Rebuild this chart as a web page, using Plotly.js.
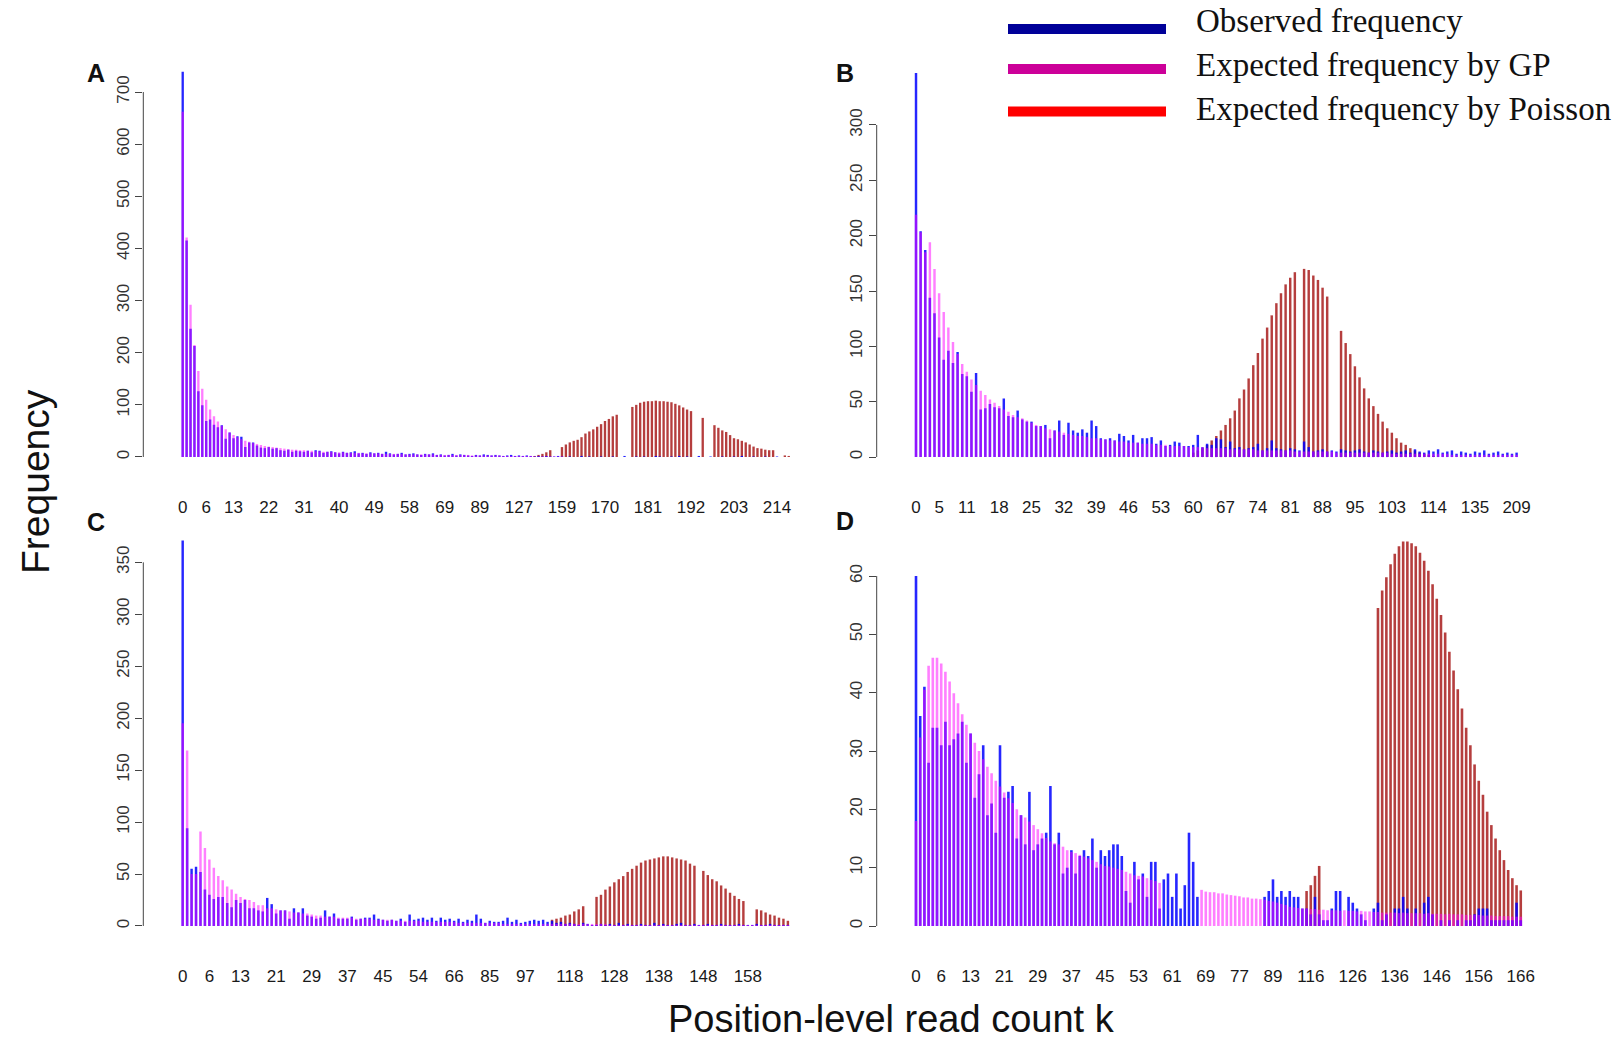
<!DOCTYPE html>
<html><head><meta charset="utf-8">
<script src="https://cdn.plot.ly/plotly-3.0.1.min.js"></script>
<style>html,body{margin:0;padding:0;background:#fff}#chart{width:1621px;height:1044px}</style>
</head><body><div id="chart"></div>
<script>
// ---------------- Panel A ----------------
const kA = [0,1,2,3,4,5,6,7,8,9,10,11,12,13,14,15,16,17,18,19,20,21,22,23,24,25,26,27,28,29,30,31,32,33,34,35,36,37,38,39,40,41,42,43,44,45,46,47,48,49,50,51,52,53,54,55,56,57,58,59,60,61,62,63,65,66,68,69,70,72,74,76,78,81,84,86,89,91,94,97,101,105,110,114,119,123,127,131,136,140,144,147,150,152,154,156,157,159,160,161,162,163,164,165,166,167,168,169,170,171,172,173,174,175,176,177,178,179,180,181,182,183,184,185,186,187,188,189,190,191,192,193,194,195,196,197,198,199,200,201,202,203,204,205,206,207,208,209,210,211,212,213,214,216,219,223];
const obsA = [739,415,246,213,126,99,69,72,62,57,61,35,47,36,40,39,19,28,28,22,18,17,19,16,17,13,12,14,10,12,11,
10,12,9,13,12,8,10,11,9,7,10,8,9,11,7,8,6,9,7,8,6,10,7,5,6,8,5,6,
7,5,4,6,5,7,4,5,3,4,6,3,5,4,3,2,4,3,5,4,3,4,3,2,3,4,2,3,
2,3,2,1,2,1,2,1,1,2,1,
null,1,null,null,2,null,1,null,null,1,
null,null,1,null,null,2,null,null,1,null,
1,null,null,2,1,null,null,1,null,2,
null,1,null,null,2,null,null,1,null,null,
1,null,null,1,null,2,null,null,1,null,
null,1,null,null,1,null,null,null];
const gpA = [662,421,292,215,165,131,110,91,78,68,60,53,47,42,38,34,31,29,27,25,23,21,20,19,18,17,16,15,14,14,13,
13,12,12,11,11,10,10,10,9,9,9,8,8,8,8,7,7,7,7,7,6,6,6,6,6,6,5,5,
5,5,5,5,5,5,4,4,4,4,4,4,4,4,4,3,3,3,3,3,3,3,3,2,2,2,2,2,
2,2,2,1,1,1,1,1,1,1,1];
const poisAk = [144,147,150,152,154,159,160,161,162,163,164,165,166,167,168,169,170,171,172,173,177,178,179,180,181,182,183,184,185,186,187,188,189,190,191,192,195,198,199,200,201,202,203,204,205,206,207,208,209,210,211,212,213,219,223];
const poisA = [2,4,6,9,13,19,24,28,31,33,38,45,49,53,58,63,69,73,78,81,96,100,104,106,107,107,108,107,107,106,105,102,99,95,91,88,75,61,56,51,48,42,36,34,31,28,24,20,17,16,14,13,13,3,2];
const ticksA = [0,6,13,22,31,40,49,58,69,89,127,159,170,181,192,203,214];

// ---------------- Panel B ----------------
const kB = [0,1,2,3,4,5,6,7,8,9,10,11,12,13,14,15,16,17,18,19,20,21,22,23,24,25,26,27,28,29,30,31,32,33,34,35,36,37,38,39,40,41,42,43,44,45,46,47,48,49,50,51,52,53,54,55,56,57,58,59,60,61,62,63,64,65,66,67,68,69,70,71,72,73,74,75,76,77,78,79,80,81,82,83,84,85,86,87,88,89,90,91,92,93,94,95,96,97,98,99,100,101,102,103,104,105,106,107,108,110,111,113,114,116,118,120,122,125,127,130,132,135,138,141,146,152,158,165,174,188,209];
const obsB = [347,204,187,144,130,108,88,96,85,95,75,73,59,76,43,44,48,45,44,53,37,36,42,34,32,32,28,28,29,17,24,
33,20,31,24,22,25,22,33,28,17,16,17,15,21,19,15,20,13,17,17,18,12,15,10,11,14,13,10,10,11,20,
9,12,11,17,16,9,14,8,9,7,8,9,12,6,8,15,8,7,6,8,7,6,14,9,5,6,7,5,6,5,7,6,5,6,
7,5,4,6,5,4,5,6,4,5,6,4,7,5,4,6,5,7,4,5,6,3,5,4,3,5,4,6,3,4,5,3,4,3,4];
const gpB = [219,203,185,194,170,148,131,117,104,93,84,77,70,65,60,56,52,49,46,43,41,38,36,35,33,31,29,28,26,25,24,23,22,21,20,19,19,18,17,17,16,16,15,15,14,14,13,13,13,12,12,12,11,11,11,10,10,10,10,9,9,
9,9,8,8,8,8,8,7,7,7,7,7,7,6,6,6,6,6,6,6,6,5,5,5,5,5,5,5,5,5,4,4,4,4,4,
4,4,4,4,4,4,4,3,3,3,3,3,3,3,3,3,3,3,3,3,2,2,2,2,2,2,2,2,2,2,2,2,2,2,2];
const poisBk = [60,61,62,63,64,65,66,67,68,69,70,71,72,73,74,75,76,77,78,79,80,81,82,84,85,86,87,88,89,92,93,94,95,96,97,98,99,100,101,102,103,104,105,106,107,108,110,111,113,114];
const poisB = [4,6,8,11,15,19,24,29,35,42,53,61,71,83,94,107,117,128,139,148,156,162,167,170,169,164,160,153,145,114,103,93,82,72,62,53,46,39,32,26,22,17,13,11,8,6,4,3,2,1];
const ticksB = [0,5,11,18,25,32,39,46,53,60,67,74,81,88,95,103,114,135,209];

// ---------------- Panel C ----------------
const kC = [0,1,2,3,4,5,6,7,8,9,10,11,12,13,14,15,16,17,18,19,20,21,22,23,24,25,26,27,28,29,30,31,32,33,34,35,36,37,38,39,40,41,42,43,44,45,46,47,48,49,50,52,53,54,55,56,58,59,61,62,64,66,67,69,71,73,75,78,81,85,86,88,89,90,92,93,95,97,99,101,103,105,107,109,111,113,116,118,119,120,121,122,123,124,125,126,127,128,129,130,131,132,133,134,135,136,137,138,139,140,141,142,143,144,145,146,147,148,149,150,151,152,153,154,155,156,157,158,159,160,161,162,163,164,165,166,167];
const obsC = [371,94,55,57,52,35,30,26,28,28,22,18,25,22,25,17,17,15,14,27,21,12,15,15,7,17,13,17,10,9,7,8,15,9,12,7,7,7,9,6,7,8,8,11,7,6,
5,6,5,7,4,11,6,7,8,6,8,5,8,6,7,5,7,4,6,5,11,7,3,5,4,4,5,8,4,6,3,4,
5,6,5,6,4,5,3,4,2,3,
2,1,3,2,1,1,2,1,2,1,3,1,2,1,1,2,1,1,3,1,2,1,1,2,3,1,1,2,1,1,2,1,1,2,1,1,1,2,1,1,1,2,1,1,2,1,1,1,1];
const gpC = [195,169,50,50,91,75,64,56,48,44,38,35,31,28,26,25,23,20,20,17,17,16,15,15,14,13,13,12,12,11,10,10,9,9,9,8,8,8,8,7,7,7,7,6,6,6,
6,6,5,5,5,5,5,5,4,4,4,4,4,4,4,4,3,3,3,3,3,3,3,3,3,3,2,2,2,2,2,2,
2,2,2,2,2,2,2,2,2,2,2,2,2,2,2,2,2,2,
1,1,1,1,1,1,1,1,1,1,1,1,1,1,1,1,1,1,1,1,1,1,1,1,1,1,1,1,1,1,1,1,1,1,1,1,1,1,1,1,1];
const poisCk = [109,111,113,116,118,119,120,121,124,125,126,127,128,129,130,131,132,133,134,135,136,137,138,139,140,141,142,143,144,145,146,148,149,150,151,152,153,154,155,156,157,160,161,162,163,164,165,166,167];
const poisC = [6,7,8,10,11,14,16,19,28,30,35,38,42,45,48,52,55,58,61,63,64,65,66,67,67,66,65,64,63,60,58,53,49,45,43,39,36,32,29,26,24,16,15,13,11,10,8,7,5];
const ticksC = [0,6,13,21,29,37,45,54,66,85,97,118,128,138,148,158];

// ---------------- Panel D ----------------
const kD = [0,1,2,3,4,5,6,7,8,9,10,11,12,13,14,15,16,17,18,19,20,21,22,23,24,25,26,27,28,29,30,31,32,33,34,35,36,37,38,39,40,41,42,43,44,45,46,47,48,49,50,51,52,53,54,55,56,57,58,59,60,61,62,63,64,65,66,67,68,69,70,71,72,73,74,75,76,77,78,79,81,82,84,85,87,89,90,92,95,98,101,104,108,112,116,117,118,119,120,121,122,123,124,125,126,127,128,129,130,131,132,133,134,135,136,137,138,139,140,141,142,143,144,145,146,147,148,149,150,151,152,153,154,155,156,157,158,159,160,161,162,163,164,165,166];
const obsD = [60,36,41,28,34,34,31,35,31,32,33,35,28,33,22,26,31,19,21,16,31,22,23,24,15,19,14,23,13,14,15,16,24,14,16,9,10,13,9,12,13,12,15,10,13,12,13,14,14,12,6,4,11,8,9,5,11,11,3,8,9,5,9,3,7,16,11,5,
null,null,null,null,null,null,null,null,null,null,null,null,null,null,null,
5,6,8,5,6,5,6,5,5,3,3,2,5,2,1,1,3,6,6,null,5,4,3,2,1,null,3,4,1,2,null,3,3,5,3,null,3,null,4,5,2,null,1,null,1,null,1,null,1,1,2,3,3,3,1,1,1,1,1,1,4,1];
const gpD = [18,32.3,40.5,44.6,46,46,45,43.6,41.9,39.9,38.2,36.3,34.5,33,31.4,30,28.6,27.3,26.2,24.9,23.9,22.9,21.9,21.1,20,19,18.6,17.9,17.3,16.6,15.9,15.1,14.5,14.2,14,13.6,13,12.7,12.5,12.2,11.9,11.6,11.3,11,10.6,10.3,10.2,10,9.8,9.6,9.3,9,8.7,8.6,8.5,8.2,7.9,7.7,7.4,
null,null,null,null,null,null,null,null,null,
6.2,5.9,5.8,5.8,5.6,5.6,5.4,5.3,5.2,5.1,4.9,4.9,4.7,4.7,4.6,4.5,4.3,4.2,4.0,3.8,3.6,
3.3,3.2,3.1,3.0,3.0,2.9,2.9,2.8,
2.8,2.7,2.7,2.7,2.6,2.7,2.6,2.6,2.5,2.6,2.5,2.5,2.4,
2.4,2.3,2.3,2.3,2.3,2.2,2.3,2.2,2.2,2.2,2.2,2.1,2.2,2.1,
2.1,2.1,2.0,2.1,2.0,2.0,2.0,1.9,1.9,1.9,1.9,1.8,1.8,
1.8,1.7,1.7,1.7,1.7,1.6,1.6,1.6];
const poisDk = [112,116,117,118,132,133,134,135,136,137,138,139,140,141,142,143,144,145,146,147,148,149,150,151,152,153,154,155,156,157,158,159,160,161,162,163,164,165,166];
const poisD = [6,7,8.6,10.3,54.5,57.5,59.8,62,63.8,65.1,65.9,65.9,65.6,65.1,64,62.6,60.9,58.6,56.1,53.3,50.3,47,43.8,40.6,37.3,34,31,27.7,24.9,22.5,19.6,17.3,15,13,11.3,9.6,8.2,7,6.1];
const ticksD = [0,6,13,21,29,37,45,53,61,69,77,89,116,126,136,146,156,166];

const legendNames = ['Observed frequency','Expected frequency by GP','Expected frequency by Poisson'];

// ---------------- build ----------------
const W = 1621, H = 1044;
const S = a => a.map(String);
const FONT = 'Liberation Sans, Arial, sans-serif';
const cObs = 'rgba(0,0,255,0.85)', cGP = 'rgba(255,0,255,0.5)', cPois = 'rgba(165,20,20,0.82)';

const panels = [
  {k:kA, obs:obsA, gp:gpA, pk:poisAk, pv:poisA, ticks:ticksA, ymax:700, dy:100, xr:[-10.08,156.6], yr:[-72.9,749.9], xd:[143.3,795], yd:[66,495], w:0.6, lab:'A', lp:[96,73]},
  {k:kB, obs:obsB, gp:gpB, pk:poisBk, pv:poisB, ticks:ticksB, ymax:300, dy:50, xr:[-8.51,132.9], yr:[-34.3,353.3], xd:[876.7,1530], yd:[66,495], w:0.53, lab:'B', lp:[845,73]},
  {k:kC, obs:obsC, gp:gpC, pk:poisCk, pv:poisC, ticks:ticksC, ymax:350, dy:50, xr:[-8.85,137.6], yr:[-36.6,376.3], xd:[143.3,795], yd:[535,964], w:0.55, lab:'C', lp:[96,522]},
  {k:kD, obs:obsD, gp:gpD, pk:poisDk, pv:poisD, ticks:ticksD, ymax:60, dy:10, xr:[-9.36,146.2], yr:[-6.51,67.03], xd:[876.7,1530], yd:[535,964], w:0.62, lab:'D', lp:[845,521]}
];

const data = [];
const layout = {
  width: W, height: H, margin:{l:0,r:0,t:0,b:0,pad:0},
  paper_bgcolor:'#fff', plot_bgcolor:'rgba(0,0,0,0)',
  barmode:'overlay', showlegend:false, hovermode:false,
  font:{family:FONT, color:'#111'},
  shapes:[], annotations:[]
};

panels.forEach((p, i) => {
  const s = i === 0 ? '' : String(i+1);
  if (p.pk.length !== p.pv.length) throw new Error('poisson length mismatch panel '+p.lab);
  const xa = 'x'+s, ya = 'y'+s;
  data.push({type:'bar', x:S(p.pk), y:p.pv, xaxis:xa, yaxis:ya, width:p.w, name:legendNames[2],
             marker:{color:cPois, line:{width:0}}, hoverinfo:'skip'});
  data.push({type:'bar', x:S(p.k.slice(0,p.obs.length)), y:p.obs, xaxis:xa, yaxis:ya, width:p.w, name:legendNames[0],
             marker:{color:cObs, line:{width:0}}, hoverinfo:'skip'});
  data.push({type:'bar', x:S(p.k.slice(0,p.gp.length)), y:p.gp, xaxis:xa, yaxis:ya, width:p.w, name:legendNames[1],
             marker:{color:cGP, line:{width:0}}, hoverinfo:'skip'});
  const yt = [];
  for (let v = 0; v <= p.ymax + 1e-9; v += p.dy) yt.push(v);
  layout['xaxis'+s] = {
    domain:[p.xd[0]/W, p.xd[1]/W], anchor:ya, type:'category',
    categoryorder:'array', categoryarray:S(p.k), range:p.xr,
    tickmode:'array', tickvals:S(p.ticks), ticktext:S(p.ticks), tickangle:0,
    showgrid:false, zeroline:false, showline:false, ticks:'', automargin:false,
    tickfont:{family:FONT, size:17, color:'#1a1a1a'}, fixedrange:true
  };
  layout['yaxis'+s] = {
    domain:[1-p.yd[1]/H, 1-p.yd[0]/H], anchor:xa, range:p.yr,
    tickmode:'array', tickvals:yt, ticktext:yt.map(String), tickangle:-90,
    ticks:'outside', ticklen:7, tickwidth:1, tickcolor:'#444',
    showgrid:false, zeroline:false, showline:false, automargin:false,
    tickfont:{family:FONT, size:17, color:'#333'}, fixedrange:true
  };
  layout.shapes.push({type:'line', xref:xa+' domain', yref:ya, x0:0, x1:0, y0:0, y1:p.ymax,
                      line:{color:'#444', width:1}});
  layout.annotations.push({text:'<b>'+p.lab+'</b>', xref:'paper', yref:'paper',
    x:p.lp[0]/W, y:1-p.lp[1]/H, xanchor:'center', yanchor:'middle', showarrow:false,
    font:{family:FONT, size:25, color:'#111'}});
});

// axis titles
layout.annotations.push({text:'Frequency', xref:'paper', yref:'paper', x:35/W, y:1-482/H,
  xanchor:'center', yanchor:'middle', textangle:-90, showarrow:false,
  font:{family:FONT, size:39, color:'#111'}});
layout.annotations.push({text:'Position-level read count k', xref:'paper', yref:'paper', x:891/W, y:1-1019/H,
  xanchor:'center', yanchor:'middle', showarrow:false,
  font:{family:FONT, size:38, color:'#111'}});

// legend (drawn as lines + text)
const legCols = ['#000099','#cc0099','#ff0000'];
const legY = [29, 69, 111.5];
const legTY = [21, 65, 109];
legendNames.forEach((t, j) => {
  layout.shapes.push({type:'line', xref:'paper', yref:'paper', x0:1008/W, x1:1166/W,
    y0:1-legY[j]/H, y1:1-legY[j]/H, line:{color:legCols[j], width:10}});
  layout.annotations.push({text:t, xref:'paper', yref:'paper', x:1194/W, y:1-legTY[j]/H,
    xanchor:'left', yanchor:'middle', showarrow:false,
    font:{family:'Liberation Serif, Times New Roman, serif', size:33, color:'#111'}});
});

Plotly.newPlot('chart', data, layout, {displayModeBar:false, staticPlot:true});
</script>
</body></html>
